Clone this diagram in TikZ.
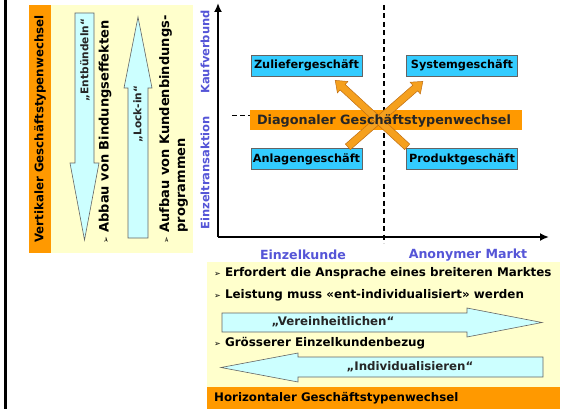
\documentclass[tikz,border=0pt]{standalone}
\usepackage{fontspec}
\setmainfont{DejaVu Sans}
\usetikzlibrary{arrows.meta,shapes.arrows,calc}
\definecolor{panelyellow}{RGB}{255,255,204}
\definecolor{striporange}{RGB}{255,153,0}
\definecolor{arroworange}{RGB}{245,160,30}
\definecolor{arrowedge}{RGB}{190,110,20}
\definecolor{boxblue}{RGB}{51,204,255}
\definecolor{arrowcyan}{RGB}{204,255,255}
\definecolor{labelblue}{RGB}{85,85,215}
\definecolor{edgegray}{RGB}{100,100,100}
\newcommand{\bulletmark}{{\fontsize{8}{8}\selectfont ➢}}
\tikzset{
  box/.style={draw=edgegray,fill=boxblue,minimum width=111pt,minimum height=21pt,inner sep=0pt,
    font=\bfseries\fontsize{11.3}{13}\selectfont},
  axislabel/.style={text=labelblue,inner sep=0pt,font=\bfseries\fontsize{12.6}{14}\selectfont},
  vaxislabel/.style={axislabel,rotate=90,font=\bfseries\fontsize{11.5}{13}\selectfont},
  striptext/.style={inner sep=0pt,font=\bfseries\fontsize{11.8}{14}\selectfont},
  bullettext/.style={inner sep=0pt,anchor=west,font=\bfseries\fontsize{11.9}{14}\selectfont},
  sidetext/.style={inner sep=0pt,rotate=90,font=\bfseries\fontsize{13}{16}\selectfont},
  arrowtext/.style={inner sep=0pt,text=black!85,font=\bfseries\fontsize{11.8}{13}\selectfont},
  varrowtext/.style={arrowtext,rotate=90,font=\bfseries\fontsize{10.6}{12}\selectfont},
  bigarrow/.style={draw=edgegray,fill=arrowcyan,line width=0.6pt},
  fatarrow/.style={single arrow,draw=arrowedge,fill=arroworange,line width=0.5pt,inner xsep=0pt,
    inner ysep=3.5pt,single arrow head extend=4pt,single arrow tip angle=75,
    single arrow head indent=0pt,minimum width=1pt},
}
\begin{document}
\begin{tikzpicture}[x=1pt,y=-1pt]
\useasboundingbox (0,0) rectangle (564,409);
\fill[black] (4,0) rectangle (7,409); % left rule
% left panel
\fill[striporange] (29,5) rectangle (51,253);
\fill[panelyellow] (51,5) rectangle (193,253);
\node[striptext,rotate=90] (vertlabel) at (40,129) {Vertikaler Geschäftstypenwechsel};
\draw[bigarrow] (75,13) -- (94,13) -- (94,163) -- (99,163) -- (84.5,240) -- (70,163) -- (75,163) -- cycle; % down
\node[varrowtext] (entb) at (85,60) {„Entbündeln“};
\draw[bigarrow] (128,238) -- (148,238) -- (148,88) -- (152,88) -- (138,17) -- (124,88) -- (128,88) -- cycle; % up
\node[varrowtext] (lockin) at (138,114) {„Lock-in“};
\node[sidetext,anchor=west] (abbau) at (105,244) {\bulletmark\ Abbau von Bindungseffekten};
\node[sidetext,anchor=north west,align=left] (aufbau) at (159,244)
  {\bulletmark\ Aufbau von Kundenbindungs-\\\phantom{\bulletmark\ }programmen};
% chart
\coordinate (origin) at (218,237);
\coordinate (ytop) at (218,3);
\coordinate (xend) at (549,237);
\draw[dashed,line width=1.2pt,dash pattern=on 5pt off 3.5pt] (384,5) -- (384,243); % market split
\draw[dashed,line width=1pt,dash pattern=on 5pt off 3pt] (232,115) -- (250,115);
\draw[line width=2pt,-{Latex[length=9pt,width=8pt]}] (origin) -- (ytop);
\draw[line width=2pt,-{Latex[length=9pt,width=8pt]}] (origin) -- (xend);
\node[vaxislabel] (kauf) at (205,52) {Kaufverbund};
\node[vaxislabel] (einzelt) at (205,173) {Einzeltransaktion};
\node[axislabel] (einzelk) at (303,255) {Einzelkunde};
\node[axislabel] (anonym) at (468,255) {Anonymer Markt};
\node[box] (zulief) at (306.5,65.5) {Zuliefergeschäft};
\node[box] (system) at (462,65.5) {Systemgeschäft};
\node[box] (anlagen) at (306.5,159) {Anlagengeschäft};
\node[box] (produkt) at (462,159) {Produktgeschäft};
\fill[striporange] (250,110) rectangle (522,130); % diagonal bar
\coordinate (fromanl) at (346,148.5);
\coordinate (tosys) at (421,83);
\coordinate (fromprod) at (409,148.5);
\coordinate (tozul) at (337,82);
\path let \p1=($(tosys)-(fromanl)$), \n1={veclen(\x1,\y1)} in
  (fromanl) -- (tosys) node[fatarrow,midway,sloped,allow upside down,minimum height=\n1] (diagup) {};
\path let \p1=($(tozul)-(fromprod)$), \n1={veclen(\x1,\y1)} in
  (fromprod) -- (tozul) node[fatarrow,midway,sloped,allow upside down,minimum height=\n1] (diagdown) {};
\node[inner sep=0pt,text=black!85,font=\bfseries\fontsize{12.8}{14}\selectfont] (diag) at (384,120.5) {Diagonaler Geschäftstypenwechsel};
% bottom panel
\fill[panelyellow] (207,262) rectangle (560,387);
\fill[striporange] (207,387) rectangle (560,409);
\node[bullettext] (erford) at (214,273) {\bulletmark\ Erfordert die Ansprache eines breiteren Marktes};
\node[bullettext] (leist) at (214,295) {\bulletmark\ Leistung muss «ent-individualisiert» werden};
\draw[bigarrow] (222,313) -- (467,313) -- (467,308) -- (542,322.5) -- (467,337) -- (467,332) -- (222,332) -- cycle;
\node[arrowtext] (verein) at (333,322) {„Vereinheitlichen“};
\node[bullettext] (groess) at (214,343) {\bulletmark\ Grösserer Einzelkundenbezug};
\draw[bigarrow] (543,357) -- (298,357) -- (298,353) -- (221,367.5) -- (298,382) -- (298,377) -- (543,377) -- cycle;
\node[arrowtext] (indiv) at (410,367) {„Individualisieren“};
\node[striptext,anchor=west] (horizlabel) at (214,398) {Horizontaler Geschäftstypenwechsel};
\end{tikzpicture}
\end{document}
